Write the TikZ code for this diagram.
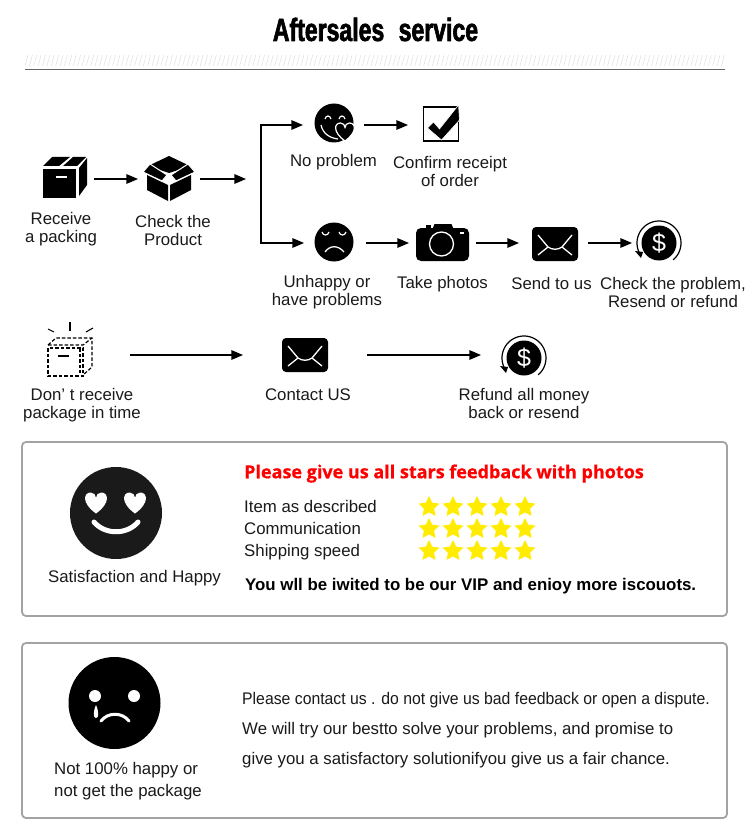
\documentclass[tikz,border=0pt]{standalone}
\usepackage{fontspec}
\usepackage{xcolor}
\usetikzlibrary{shapes.geometric, arrows, positioning}
\setmainfont{Liberation Sans}
\newfontfamily\titlefont[FakeStretch=0.72,FakeBold=2]{Liberation Sans Bold}
\newfontfamily\redfont[FakeBold=0.6]{Open Sans Bold}
\newfontfamily\narrowfont[FakeStretch=0.94]{Liberation Sans}
\definecolor{ink}{HTML}{1A1A1A}
\definecolor{framegray}{HTML}{A3A3A3}
\definecolor{stargold}{HTML}{FFEC00}
\newcommand{\heartpath}{(0,1) .. controls (-1.4,0) and (-1.2,-1) .. (-0.5,-1) .. controls (-0.2,-1) and (0,-0.75) .. (0,-0.5) .. controls (0,-0.75) and (0.2,-1) .. (0.5,-1) .. controls (1.2,-1) and (1.4,0) .. (0,1) -- cycle}
\tikzset{
  boxicon/.pic={
    \fill (-22,-8) rectangle (11,21);
    \fill (-22,-11) -- (-13,-20) -- (5,-20) -- (-6,-11) -- cycle;
    \fill (-2,-11) -- (8,-20) -- (21,-20) -- (12,-11) -- cycle;
    \fill (14,-9) -- (22,-19) -- (22,8) -- (14,19) -- cycle;
    \fill[white] (-9,-0.5) rectangle (2,1);
  },
  openicon/.pic={
    \fill (-22,-4) -- (-1,6) -- (-1,22) -- (-22,11) -- cycle;
    \fill (22,-4) -- (1,6) -- (1,22) -- (22,11) -- cycle;
    \fill (-21,-13) -- (0,-23) -- (21,-13) -- (0,-6) -- cycle;
    \filldraw[draw=white, line width=1pt] (-26,-7) -- (-19,-15) -- (-2,-4) -- (-7,2) -- cycle;
    \filldraw[draw=white, line width=1pt] (26,-7) -- (19,-15) -- (2,-4) -- (7,2) -- cycle;
  },
  smileicon/.pic={
    \fill (0,0) circle (19.5pt);
    \draw[white, line width=1.2pt] (-9,-4) .. controls (-8,-8) and (-4,-8) .. (-3,-4);
    \draw[white, line width=1.2pt] (5,-4) .. controls (6,-8) and (10,-8) .. (11,-4);
    \draw[white, line width=1.2pt] (-13,2) .. controls (-11,11) and (-4,15) .. (4,16);
    \begin{scope}[shift={(11,9)}, scale=9]
      \filldraw[draw=white, line width=1.2pt] \heartpath;
    \end{scope}
  },
  frownicon/.pic={
    \fill (0,0) circle (19.5pt);
    \draw[white, line width=1.2pt] (-12,-10) .. controls (-11,-6) and (-6,-6) .. (-5,-10);
    \draw[white, line width=1.2pt] (5,-10) .. controls (6,-6) and (11,-6) .. (12,-10);
    \draw[white, line width=1.3pt] (-9,10) .. controls (-4,3) and (4,3) .. (10,10);
  },
  checkicon/.pic={
    \draw[line width=1.2pt] (-17,-17) rectangle (18,17);
    \filldraw[draw=white, line width=0.6pt] (-13,4) -- (-7,-2) -- (-1,5) -- (18,-19) -- (19,-4) -- (1,16) -- cycle;
  },
  cameraicon/.pic={
    \fill[rounded corners=5pt] (-26.5,-15) rectangle (26.5,18);
    \fill (-10,-14) -- (-8,-19) -- (9,-19) -- (11,-14) -- cycle;
    \fill (-17,-14) rectangle (-12,-18);
    \draw[white, line width=1.3pt] (-1,1) circle (12pt);
    \fill[white] (17,-11) rectangle (21,-9);
  },
  mailicon/.pic={
    \fill[rounded corners=4pt] (-23,-17) rectangle (23,17);
    \draw[white, line width=1.3pt] (-17,-9) -- (-7,3) .. controls (-3,6) and (3,6) .. (7,3) -- (17,-9);
    \draw[white, line width=1.3pt] (-17,11) -- (-7,3);
    \draw[white, line width=1.3pt] (17,11) -- (7,3);
  },
  dollaricon/.pic={
    \fill (0,0) circle (17.5pt);
    \draw[line width=1.2pt] plot[domain=50:-205, samples=50, smooth] ({22*cos(\x)}, {22*sin(\x)});
    \fill (-24,8) -- (-16,9) -- (-18,15) -- cycle;
    \node[white, font=\fontsize{25}{25}\selectfont, inner sep=0pt] (sign) at (0,0) {\$};
  },
  lostboxicon/.pic={
    \draw[line width=1.2pt, dash pattern=on 3.5pt off 2pt] (-22,-7) rectangle (13,21);
    \draw[line width=1.2pt, dash pattern=on 3.5pt off 2pt] (-22,-10) -- (-14,-17) -- (22,-17) -- (22,12) -- (13,20);
    \draw[line width=1.2pt, dash pattern=on 3.5pt off 2pt] (-22,-10) -- (13,-10) -- (22,-17);
    \draw[line width=1.2pt, dash pattern=on 3.5pt off 2pt] (10,-7) -- (10,18);
    \draw[line width=1.1pt] (-12,1) -- (-1,1);
    \draw[line width=1.1pt] (0,-33) -- (0,-24);
    \draw[line width=1.1pt] (-22,-26) -- (-16,-23);
    \draw[line width=1.1pt] (23,-27) -- (16,-23);
  }
}
\begin{document}
\begin{tikzpicture}[x=1pt, y=-1pt, >=triangle 45, font=\fontsize{16.8}{18}\selectfont, text=ink]
  \tikzstyle{iconnode} = [minimum width=#1, minimum height=10pt, inner sep=0pt, outer sep=0pt]
  \tikzstyle{flow} = [->, line width=1.7pt, black]
  \tikzstyle{forked} = [flow, to path={|- (\tikztotarget)}]
  \tikzstyle{txt} = [align=center, inner sep=0pt]
  \tikzstyle{leftline} = [anchor=west, inner sep=0pt, text height=12pt, text depth=3.5pt]
  \tikzstyle{panel} = [draw=framegray, line width=1.8pt, rounded corners=4pt, fill=white]
  \tikzstyle{hatch} = [gray!25, line width=0.5pt]
  \tikzstyle{staricon} = [star, star points=5, star point ratio=2.05, fill=stargold, minimum size=22pt, inner sep=0pt]

  \useasboundingbox (0,0) rectangle (750,837);

  \node[txt, text=black, font=\fontsize{32}{34}\titlefont] (Title) at (375.5,29.5) {Aftersales\hspace{0.25em} service};
  \foreach \i in {0,...,159} \draw[hatch] ({25+4.38*\i},66) -- ++(3,-11);
  \draw[gray!80!black, line width=0.8pt] (25,69) -- (725,69);

  \node[iconnode=58pt] (Box) at (65,179) {};
  \node[iconnode=62pt] (Open) [right of=Box, node distance=104pt] {};
  \coordinate (Stop) at (246,179);
  \coordinate (Fork) at (261,179);
  \node[iconnode=61pt] (Smile) at (333.5,125) {};
  \node[iconnode=64pt] (Check) [right of=Smile, node distance=106.5pt] {};
  \node[iconnode=62pt] (Frown) at (335,243) {};
  \node[iconnode=67pt] (Camera) [right of=Frown, node distance=107.5pt] {};
  \node[iconnode=69pt] (Send) [right of=Camera, node distance=111pt] {};
  \node[iconnode=54pt] (Refund) [right of=Send, node distance=105.5pt] {};
  \node[iconnode=120pt] (Lost) at (70,355) {};
  \node[iconnode=124pt] (Contact) [right of=Lost, node distance=235pt] {};
  \node[iconnode=86pt] (Money) [right of=Contact, node distance=219pt] {};

  \pic[shift={(0,-2)}] at (Box) {boxicon};
  \pic at (Open) {openicon};
  \pic[shift={(0.5,-2)}] at (Smile) {smileicon};
  \pic[shift={(0.5,-1)}] at (Check) {checkicon};
  \pic[shift={(-1,-1)}] at (Frown) {frownicon};
  \pic at (Camera) {cameraicon};
  \pic[shift={(1.5,1)}] at (Send) {mailicon};
  \pic at (Refund) {dollaricon};
  \pic at (Lost) {lostboxicon};
  \pic at (Contact) {mailicon};
  \pic[shift={(0,3)}] at (Money) {dollaricon};

  \path
    (Box) edge[flow] (Open)
    (Open) edge[flow] (Stop)
    (Fork) edge[forked] (Smile)
    (Fork) edge[forked] (Frown)
    (Smile) edge[flow] (Check)
    (Frown) edge[flow] (Camera)
    (Camera) edge[flow] (Send)
    (Send) edge[flow] (Refund)
    (Lost) edge[flow] (Contact)
    (Contact) edge[flow] (Money);

  \node[txt] (BoxText) [below of=Box, node distance=50pt, xshift=-4pt] {Receive\\a packing};
  \node[txt] (OpenText) [below of=Open, node distance=51pt, xshift=4pt] {Check the\\Product};
  \node[txt] (SmileText) [below of=Smile, node distance=37pt] {No problem};
  \node[txt] (CheckText) [below of=Check, node distance=46pt, xshift=10pt] {Confirm receipt\\of order};
  \node[txt] (FrownText) [below of=Frown, node distance=49pt, xshift=-8pt] {Unhappy or\\have problems};
  \node[txt] (CameraText) [below of=Camera, node distance=41pt] {Take photos};
  \node[txt] (SendText) [below of=Send, node distance=40pt, xshift=-2pt] {Send to us};
  \node[txt] (RefundText) [below of=Refund, node distance=49pt, xshift=14pt] {Check the problem,\\Resend or refund};
  \node[txt] (LostText) [below of=Lost, node distance=50pt, xshift=12pt] {Don' t receive\\package in time};
  \node[txt] (ContactText) [below of=Contact, node distance=40pt, xshift=3pt] {Contact US};
  \node[txt] (MoneyText) [below of=Money, node distance=48pt] {Refund all money\\back or resend};

  \draw[panel] (22,442) rectangle (727,616);
  \fill[ink] (116,513) circle (46pt);
  \begin{scope}[shift={(96,503)}, scale=10.5]
    \fill[white] \heartpath;
  \end{scope}
  \begin{scope}[shift={(135,503)}, scale=10.5]
    \fill[white] \heartpath;
  \end{scope}
  \draw[white, line width=5pt, line cap=round] (94,522) .. controls (105,535) and (127,535) .. (138,522);
  \node[txt] (HappyText) at (134.5,578) {Satisfaction and Happy};
  \node[leftline, text=red, font=\fontsize{18}{20}\redfont] (Ask) at (244,474) {Please give us all stars feedback with photos};
  \node[leftline] (RateItem) at (244,508) {Item as described};
  \node[leftline] (RateTalk) at (244,530) {Communication};
  \node[leftline] (RateShip) at (244,552) {Shipping speed};
  \foreach \r/\y in {1/507, 2/529, 3/551}
    \foreach \c in {1,...,5}
      \node[staricon] (Star\r\c) at ({405+24*\c},\y) {};
  \node[leftline, text=black, font=\fontsize{16.85}{20}\selectfont\bfseries] (Vip) at (245,586) {You wll be iwited to be our VIP and enioy more iscouots.};

  \draw[panel] (22,643) rectangle (727,818);
  \fill (114.5,703) circle (46pt);
  \fill[white] (95,696) circle (6pt);
  \fill[white] (134,696) circle (6pt);
  \fill[white] (96,705) .. controls (93,712) and (93,718) .. (96,718) .. controls (99,718) and (99,712) .. (96,705) -- cycle;
  \draw[white, line width=3pt, line cap=round] (101,721) .. controls (108,712) and (122,712) .. (129,721);
  \node[leftline] (SadOne) at (54,770) {Not 100\% happy or};
  \node[leftline] (SadTwo) at (54,792) {not get the package};
  \node[leftline, font=\fontsize{16.8}{18}\narrowfont] (HelpOne) at (242,700) {Please contact us . do not give us bad feedback or open a dispute.};
  \node[leftline] (HelpTwo) at (242,730) {We will try our bestto solve your problems, and promise to};
  \node[leftline] (HelpThree) at (242,760) {give you a satisfactory solutionifyou give us a fair chance.};
\end{tikzpicture}
\end{document}
